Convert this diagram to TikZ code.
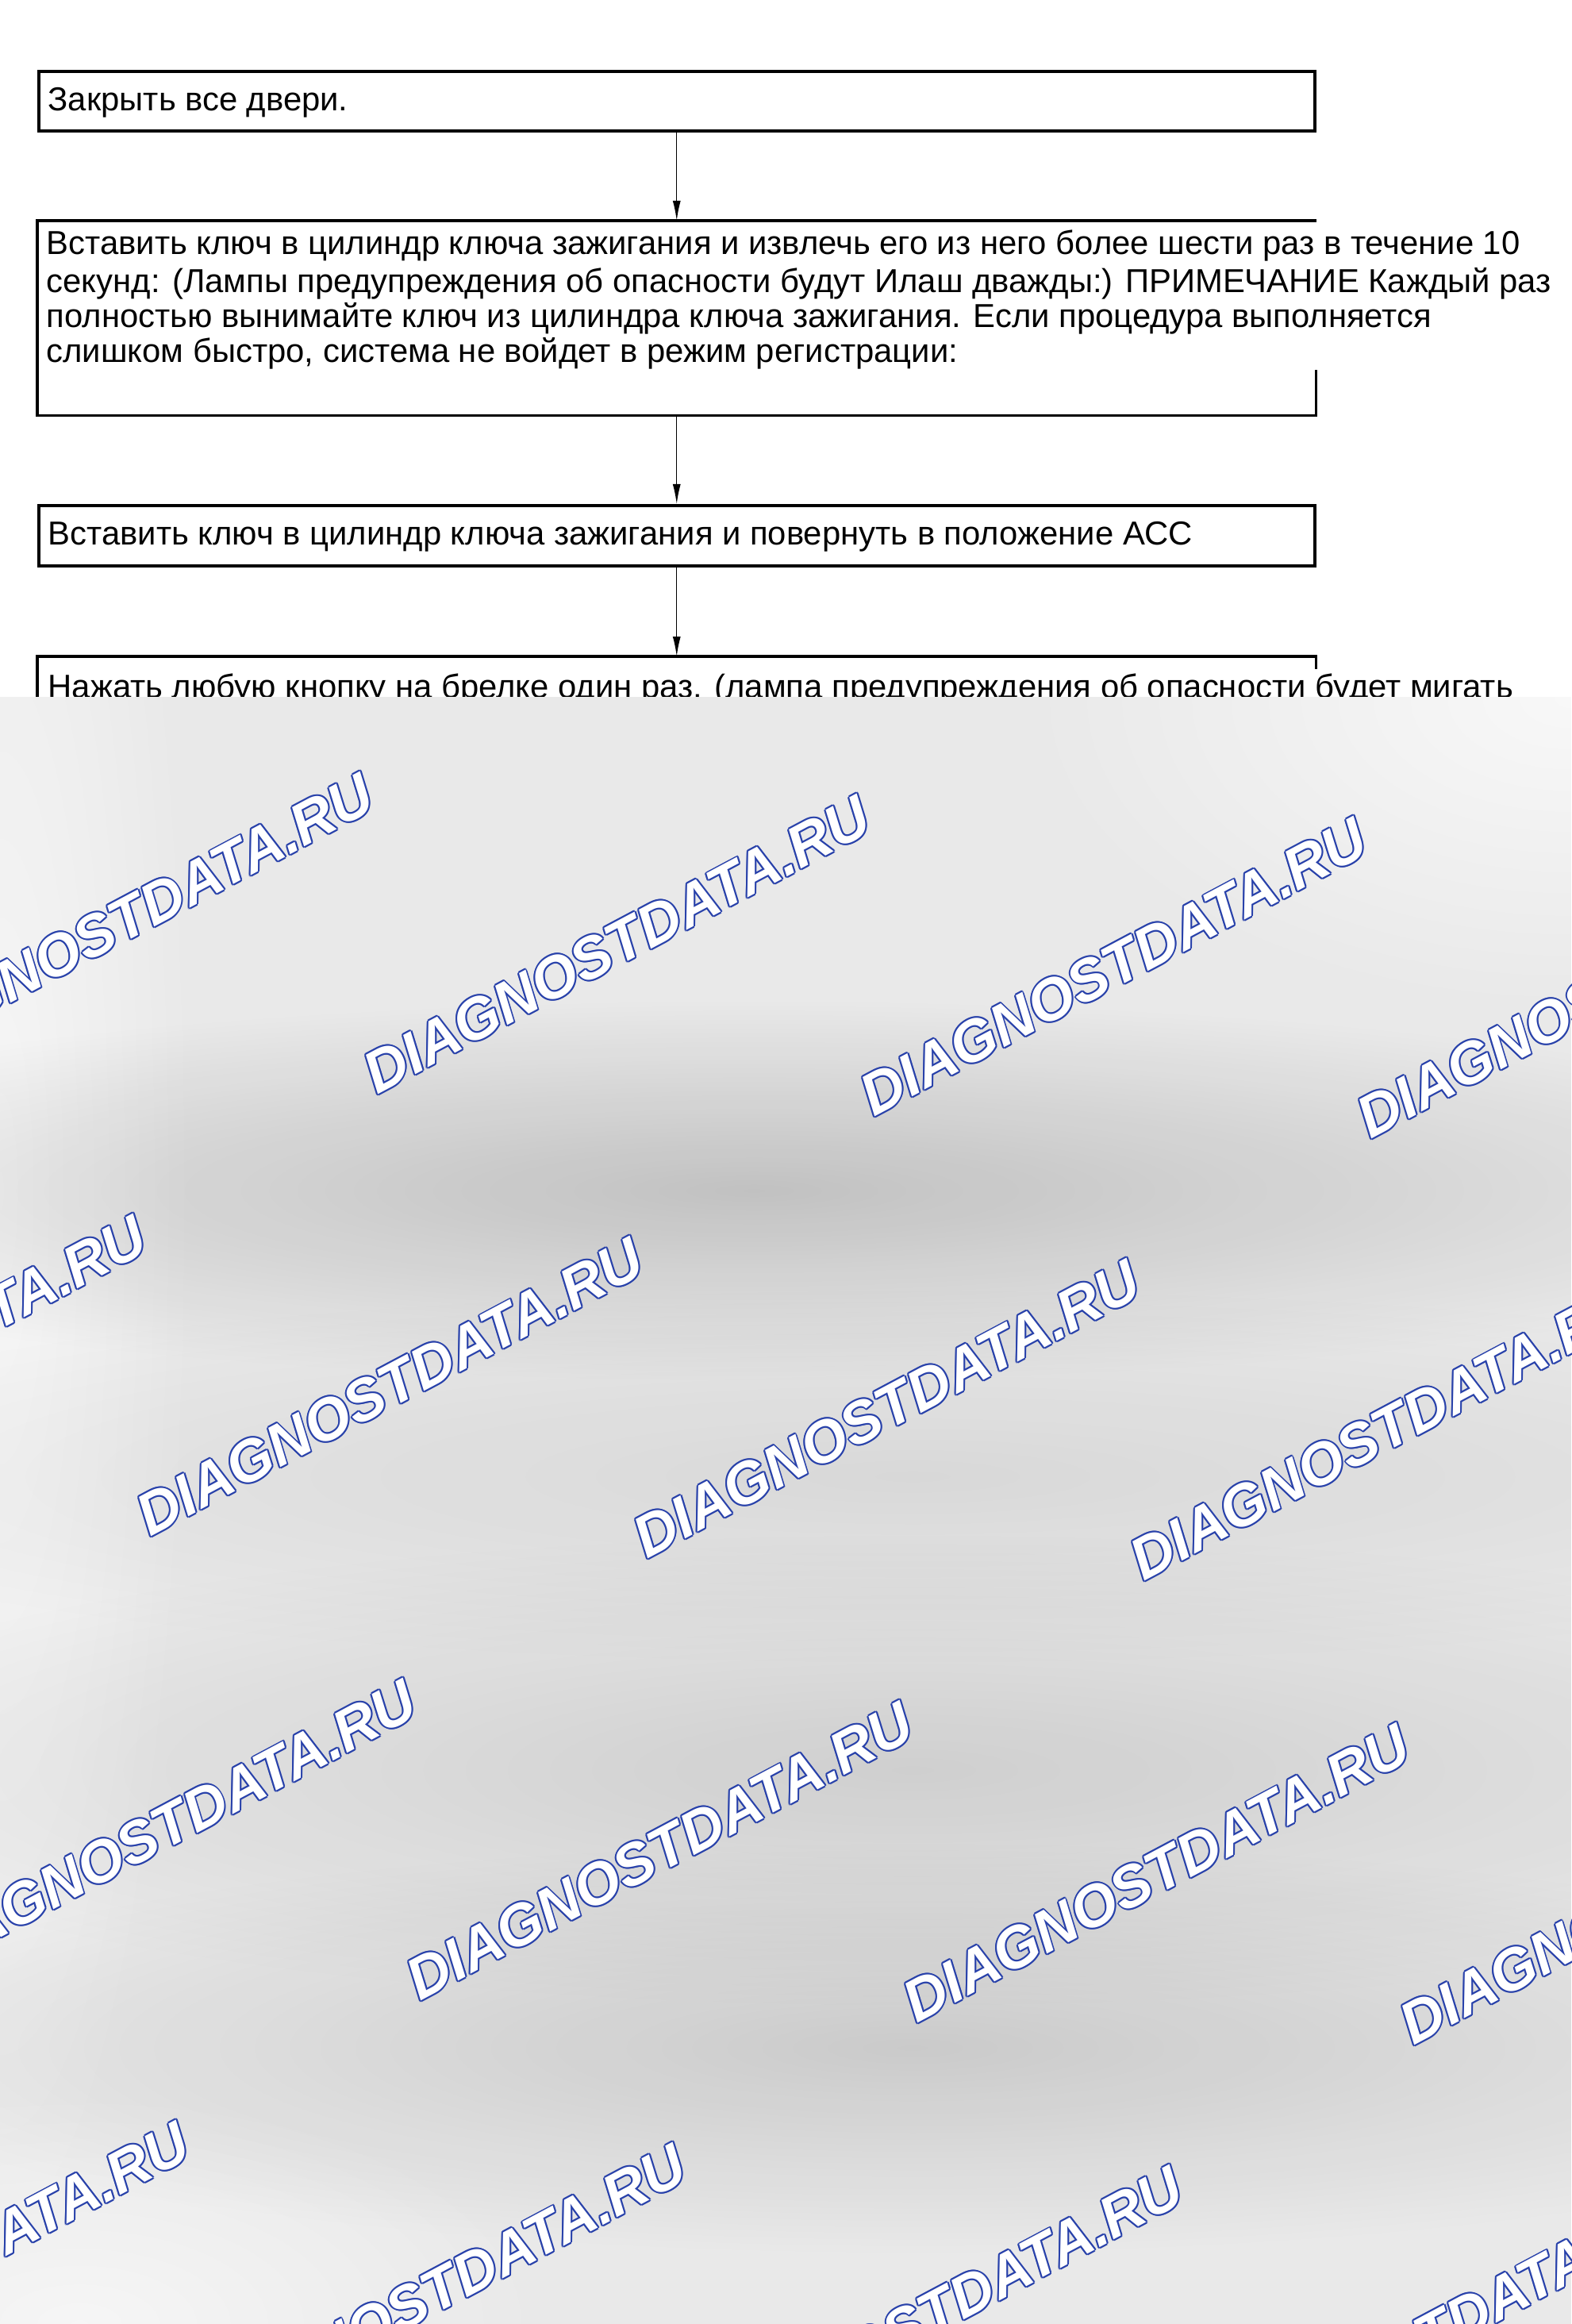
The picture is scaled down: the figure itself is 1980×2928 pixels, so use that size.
\documentclass[tikz,border=0pt]{standalone}
\usepackage{fontspec}
\setmainfont{Liberation Sans}
\usetikzlibrary{arrows.meta,fadings}
\definecolor{wmblau}{RGB}{40,65,170}
\definecolor{schleier}{RGB}{233,233,233}
\tikzfading[name=wolke, inner color=transparent!0, outer color=transparent!100]
\newcommand{\wmkopie}[3]{\rlap{\hspace*{#1}\raisebox{#2}{\color{wmblau}#3}}}
\newcommand{\wasserzeichen}[1]{\wmkopie{0.6pt}{0pt}{#1}\wmkopie{-0.6pt}{0pt}{#1}\wmkopie{0pt}{0.6pt}{#1}\wmkopie{0pt}{-0.6pt}{#1}%
  \wmkopie{0.42pt}{0.42pt}{#1}\wmkopie{-0.42pt}{0.42pt}{#1}\wmkopie{0.42pt}{-0.42pt}{#1}\wmkopie{-0.42pt}{-0.42pt}{#1}{\color{white}#1}}
\tikzset{
	kasten/.style={draw, line width=1pt, minimum width=160.8mm, anchor=north west, inner sep=0pt},
	txt/.style={anchor=north west, inner sep=0pt, align=left, font=\fontsize{11.9pt}{12.5pt}\selectfont},
	pfeil/.style={-{Latex[length=2.5mm,width=1mm]}, line width=0.4pt},
	wm/.style={rotate=28, inner sep=0pt, font=\fontsize{21pt}{21pt}\selectfont\bfseries\itshape}
}
\begin{document}
\begin{tikzpicture}[x=0.1mm,y=-0.1mm]
		%Hintergrund
		\useasboundingbox (0,0) rectangle (1980,2928);
		\fill [white] (0,0) rectangle (1980,2928);
		% Kaesten
		\node [kasten, minimum height=7.5mm] (k1) at (47,88) {};
		\node [kasten, minimum height=24.2mm, draw=none] (k2) at (47,278) {};
		\draw [line width=1pt] (k2.north east) -- (k2.north west) -- (k2.south west) -- (k2.south east) -- ++(0,-58); % rechts offen
		\node [kasten, minimum height=7.6mm] (k3) at (47,635) {};
		\node [kasten, minimum height=20mm, draw=none] (k4) at (47,827) {};
		\draw [line width=1pt] (k4.south west) -- (k4.north west) -- (k4.north east) -- ++(0,16); % rechts offen
		% Texte
		\node [txt] (t1) at (60,108) {\strut Закрыть все двери.};
		\node [txt] (t2) at (58,289) {\strut Вставить ключ в цилиндр ключа зажигания и извлечь его из него более шести раз в течение 10\\
			секунд: (Лампы предупреждения об опасности будут Илаш дважды:) ПРИМЕЧАНИЕ Каждый раз\\
			полностью вынимайте ключ из цилиндра ключа зажигания. Если процедура выполняется\\
			слишком быстро, система не войдет в режим регистрации:};
		\node [txt] (t3) at (60,655) {\strut Вставить ключ в цилиндр ключа зажигания и повернуть в положение АСС};
		\node [txt] (t4) at (60,848) {\strut Нажать любую кнопку на брелке один раз. (лампа предупреждения об опасности будет мигать};
		% Pfeile
		\draw [pfeil] (k1) -- (k2);
		\draw [pfeil] (k2) -- (k3);
		\draw [pfeil] (k3) -- (k4);
		% Schleier
		\fill [schleier] (0,878) rectangle (1980,2928);
		\begin{scope}
			\clip (0,878) rectangle (1980,2928);
			\fill [white, opacity=0.7, path fading=wolke] (1980,880) ellipse [x radius=700, y radius=400];
			\fill [white, opacity=0.6, path fading=wolke] (0,1500) ellipse [x radius=250, y radius=1400];
			\fill [white, opacity=0.6, path fading=wolke] (100,2928) ellipse [x radius=600, y radius=300];
			\fill [black, opacity=0.17, path fading=wolke] (950,1500) ellipse [x radius=1500, y radius=240];
			\fill [black, opacity=0.07, path fading=wolke] (1150,1860) ellipse [x radius=1600, y radius=240];
			\fill [black, opacity=0.11, path fading=wolke] (1150,2230) ellipse [x radius=1500, y radius=300];
			\fill [black, opacity=0.13, path fading=wolke] (1150,2580) ellipse [x radius=1400, y radius=260];
			% Wasserzeichen
			\foreach \i in {-1,...,3} {
				\foreach \j in {0,...,3} {
					\node [wm] (wm\i\j) at ({777+626*\i-286*\j},{1190+28*\i+557*\j}) {\wasserzeichen{DIAGNOSTDATA.RU}};
				}
			}
		\end{scope}
\end{tikzpicture}
\end{document}
